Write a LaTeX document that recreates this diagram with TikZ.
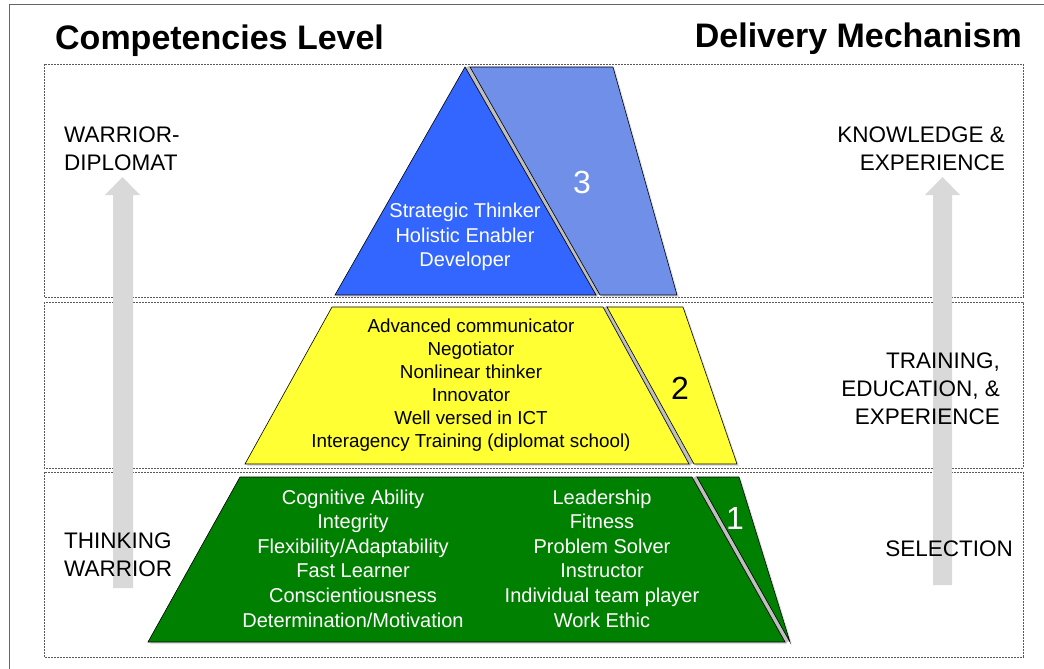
\documentclass[tikz,border=0pt]{standalone}
\usepackage{fontspec}
\setmainfont{Liberation Sans}
\usetikzlibrary{shadows}
\definecolor{tierblue}{HTML}{3366FF}
\definecolor{tierpaleblue}{HTML}{6F8FE8}
\definecolor{tieryellow}{HTML}{FFFF33}
\definecolor{tiergreen}{HTML}{008000}
\definecolor{arrowgray}{HTML}{D9D9D9}
\begin{document}
\begin{tikzpicture}[x=1pt, y=-1pt,
    tier/.style={draw=black, line width=0.6pt,
        drop shadow={shadow xshift=2pt, shadow yshift=-2pt, opacity=0.25}},
    band/.style={draw=black!65, line width=0.8pt, dash pattern=on 2pt off 1pt},
    gap/.style={draw=black!25, line width=5pt},
    item/.style={align=center, inner sep=0pt, font=\fontsize{20}{24.6}\selectfont},
    side/.style={inner sep=0pt, font=\fontsize{22.5}{28}\selectfont},
    title/.style={inner sep=0pt, font=\fontsize{34}{40}\selectfont\bfseries},
    level/.style={inner sep=0pt, font=\fontsize{32}{36}\selectfont}]
    \useasboundingbox (0, 0) rectangle (1044, 669);
    % frame and bands
    \draw [black!60, line width=1pt] (1044, 5) -- (9, 5) -- (9, 669);
    \draw [band] (44, 64) rectangle (1023, 297);
    \draw [band] (44, 302) rectangle (1023, 468);
    \draw [band] (44, 472) rectangle (1023, 657);
    % grey arrows
    \fill [arrowgray] (113, 588) -- (113, 195) -- (105, 195) -- (122.5, 177)
        -- (140, 195) -- (133, 195) -- (133, 588) -- cycle;
    \fill [arrowgray] (933, 585) -- (933, 195) -- (925, 195) -- (942.5, 177)
        -- (960, 195) -- (952, 195) -- (952, 585) -- cycle;
    % tier 3
    \draw [gap] (467, 67) -- (598, 295);
    \path [tier, fill=tierblue] (465, 67) -- (596, 295) -- (335, 295) -- cycle;
    \path [tier, fill=tierpaleblue] (470, 67) -- (613, 67) -- (677, 295) -- (600, 295) -- cycle;
    % tier 2
    \draw [gap] (605, 307) -- (691.5, 464);
    \path [tier, fill=tieryellow] (332, 307) -- (603, 307) -- (689, 464) -- (245, 464) -- cycle;
    \path [tier, fill=tieryellow] (607, 307) -- (683, 307) -- (737, 464) -- (694, 464) -- cycle;
    % tier 1
    \draw [gap] (694.5, 477) -- (787.5, 642);
    \path [tier, fill=tiergreen] (240, 477) -- (692, 477) -- (785, 642) -- (148, 642) -- cycle;
    \path [tier, fill=tiergreen] (697, 477) -- (739, 477) -- (790, 642) -- cycle;
    % titles
    \node [title, anchor=base west] (competencies) at (55, 49) {Competencies Level};
    \node [title, anchor=base east] (delivery) at (1022, 48) {Delivery Mechanism};
    % side labels
    \node [side, anchor=west, align=left] (diplomat) at (64, 149) {WARRIOR-\\DIPLOMAT};
    \node [side, anchor=west, align=left] (thinking) at (64, 554.5) {THINKING\\WARRIOR};
    \node [side, anchor=east, align=right] (knowledge) at (1005, 149) {KNOWLEDGE \&\\EXPERIENCE};
    \node [side, anchor=east, align=right] (training) at (1000, 389) {TRAINING,\\EDUCATION, \&\\EXPERIENCE};
    \node [side, anchor=east] (selection) at (1013, 549) {SELECTION};
    % tier contents
    \node [item, white] (strategic) at (465, 237) {Strategic Thinker\\Holistic Enabler\\Developer};
    \node [item, font=\fontsize{18.8}{23}\selectfont] (advanced) at (471, 385.5)
        {Advanced communicator\\Negotiator\\Nonlinear thinker\\Innovator\\Well versed in ICT\\Interagency Training (diplomat school)};
    \node [item, white] (cognitive) at (353, 558.5)
        {Cognitive Ability\\Integrity\\Flexibility/Adaptability\\Fast Learner\\Conscientiousness\\Determination/Motivation};
    \node [item, white] (leadership) at (602, 558.5)
        {Leadership\\Fitness\\Problem Solver\\Instructor\\Individual team player\\Work Ethic};
    % level numbers
    \node [level, white] (three) at (582, 182) {3};
    \node [level] (two) at (680, 388) {2};
    \node [level, white] (one) at (735, 518) {1};
\end{tikzpicture}
\end{document}
